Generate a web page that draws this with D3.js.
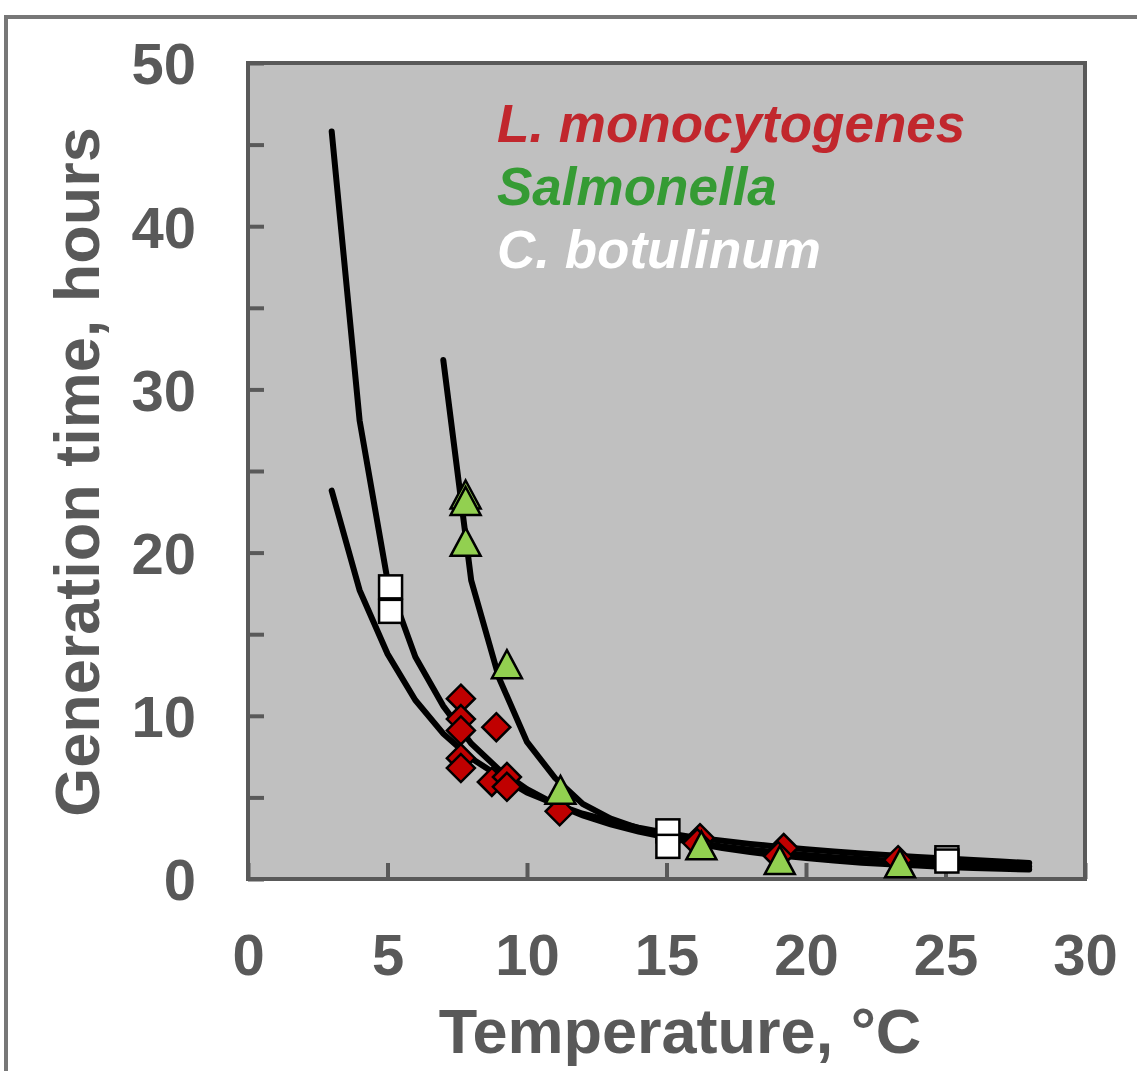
<!DOCTYPE html>
<html>
<head>
<meta charset="utf-8">
<script src="https://cdn.jsdelivr.net/npm/d3@7"></script>
<style>
  body { margin: 0; background: #fff; }
  svg { display: block; font-family: "Liberation Sans", Arial, sans-serif; }
</style>
</head>
<body>
<svg id="chart" width="1137" height="1071"></svg>
<script>
// fitted curves, read at whole degrees
const monoTemps = [3,4,5,6,7,8,9,10,11,12,13,14,15,16,17,18,19,20,21,22,23,24,25,26,27,28];
const monoFit = [23.8,17.7,13.8,10.95,8.9,7.4,6.3,5.3,4.6,4.0,3.55,3.15,2.82,2.55,2.35,2.15,1.98,1.82,1.68,1.56,1.45,1.35,1.25,1.16,1.07,0.98];

const botTemps = [3,4,5,6,7,8,9,10,11,12,13,14,15,16,17,18,19,20,21,22,23,24,25,26,27,28];
const botFit = [45.8,28.1,18.3,13.6,10.6,8.3,6.7,5.5,4.6,3.9,3.35,2.9,2.55,2.25,2.0,1.8,1.62,1.47,1.34,1.22,1.12,1.03,0.95,0.88,0.82,0.76];

const salTemps = [7,8,9,10,11,12,13,14,15,16,17,18,19,20,21,22,23,24,25,26,27,28];
const salFit = [31.8,18.3,12.3,8.4,6.2,4.6,3.7,3.1,2.6,2.2,1.9,1.65,1.45,1.28,1.13,1.0,0.9,0.82,0.74,0.68,0.63,0.58];

// observed generation times
const monoObsT = [7.63,7.63,7.63,8.9,7.63,7.63,8.74,9.28,9.28,11.17,16.2,16.1,19.2,19.0,23.3];
const monoObsG = [11.05,9.8,9.1,9.3,7.4,6.8,5.95,6.25,5.65,4.15,2.5,2.2,1.9,1.4,1.15];

const salObsT = [7.8,7.8,7.8,9.28,11.2,16.25,19.06,23.37];
const salObsG = [23.5,23.1,20.6,13.1,5.4,2.0,1.1,0.9];

const botObsT = [5.11,5.11,15.05,15.05,25.05,25.05];
const botObsG = [17.9,16.4,2.95,2.0,1.3,1.1];

const legendNames = ["L. monocytogenes", "Salmonella", "C. botulinum"];
const legendColors = ["#c1272d", "#359b34", "#ffffff"];

const xTicks = [0,5,10,15,20,25,30];
const yTicks = [0,5,10,15,20,25,30,35,40,45,50];

const axisColor = "#595959";

const svg = d3.select("#chart");

// outer frame
svg.append("rect")
  .attr("x", 6).attr("y", 17)
  .attr("width", 1300).attr("height", 1300)
  .attr("fill", "none")
  .attr("stroke", "#777777")
  .attr("stroke-width", 4);

const x = d3.scaleLinear().domain([0, 30]).range([248, 1085]);
const y = d3.scaleLinear().domain([0, 50]).range([879, 63]);

svg.append("rect")
  .attr("x", x(0)).attr("y", y(50))
  .attr("width", x(30) - x(0)).attr("height", y(0) - y(50))
  .attr("fill", "#c0c0c0");

// axes, ticks pointing inward
const yAxis = svg.append("g")
  .attr("transform", `translate(${x(0)},0)`)
  .call(d3.axisLeft(y).tickValues(yTicks).tickSizeInner(-16).tickSizeOuter(0).tickPadding(52)
    .tickFormat(d => d % 10 === 0 ? d : ""));

const xAxis = svg.append("g")
  .attr("transform", `translate(0,${y(0)})`)
  .call(d3.axisBottom(x).tickValues(xTicks).tickSizeInner(-16).tickSizeOuter(0).tickPadding(55));

[yAxis, xAxis].forEach(a => {
  a.select(".domain").remove();
  a.selectAll(".tick line").attr("stroke", axisColor).attr("stroke-width", 4);
  a.selectAll(".tick text")
    .attr("fill", axisColor)
    .style("font-size", "58px")
    .style("font-weight", "bold");
});
yAxis.selectAll(".tick text").attr("dy", "0.36em");

// plot frame
svg.append("rect")
  .attr("x", x(0)).attr("y", y(50))
  .attr("width", x(30) - x(0)).attr("height", y(0) - y(50))
  .attr("fill", "none")
  .attr("stroke", axisColor)
  .attr("stroke-width", 4);

// fitted lines
const line = d3.line().x(d => x(d[0])).y(d => y(d[1]));
const fits = [
  d3.zip(monoTemps, monoFit),
  d3.zip(botTemps, botFit),
  d3.zip(salTemps, salFit)
];
svg.append("g")
  .selectAll("path")
  .data(fits)
  .enter()
  .append("path")
  .attr("d", line)
  .attr("fill", "none")
  .attr("stroke", "#000")
  .attr("stroke-width", 6)
  .attr("stroke-linecap", "round");

// markers
svg.append("g")
  .selectAll("path")
  .data(d3.zip(monoObsT, monoObsG))
  .enter()
  .append("path")
  .attr("transform", d => `translate(${x(d[0])},${y(d[1])})`)
  .attr("d", "M0,-14L14,0L0,14L-14,0Z")
  .attr("fill", "#c00000")
  .attr("stroke", "#000")
  .attr("stroke-width", 2.5)
  .attr("stroke-linejoin", "miter");

svg.append("g")
  .selectAll("path")
  .data(d3.zip(salObsT, salObsG))
  .enter()
  .append("path")
  .attr("transform", d => `translate(${x(d[0])},${y(d[1])})`)
  .attr("d", "M0,-15L15,13L-15,13Z")
  .attr("fill", "#92d050")
  .attr("stroke", "#000")
  .attr("stroke-width", 2.5);

svg.append("g")
  .selectAll("rect")
  .data(d3.zip(botObsT, botObsG))
  .enter()
  .append("rect")
  .attr("x", d => x(d[0]) - 11.5)
  .attr("y", d => y(d[1]) - 11.5)
  .attr("width", 23)
  .attr("height", 23)
  .attr("fill", "#fff")
  .attr("stroke", "#000")
  .attr("stroke-width", 2.5);

// legend
svg.append("g")
  .selectAll("text")
  .data(legendNames)
  .enter()
  .append("text")
  .attr("x", 497)
  .attr("y", (d, i) => 142 + i * 63)
  .attr("fill", (d, i) => legendColors[i])
  .style("font-size", "53px")
  .style("font-weight", "bold")
  .style("font-style", "italic")
  .text(d => d);

// axis titles
svg.append("text")
  .attr("x", 680)
  .attr("y", 1053)
  .attr("text-anchor", "middle")
  .attr("fill", axisColor)
  .style("font-size", "63px")
  .style("font-weight", "bold")
  .text("Temperature, °C");

svg.append("text")
  .attr("transform", "translate(99,472) rotate(-90)")
  .attr("text-anchor", "middle")
  .attr("fill", axisColor)
  .style("font-size", "63px")
  .style("font-weight", "bold")
  .text("Generation time, hours");
</script>
</body>
</html>
